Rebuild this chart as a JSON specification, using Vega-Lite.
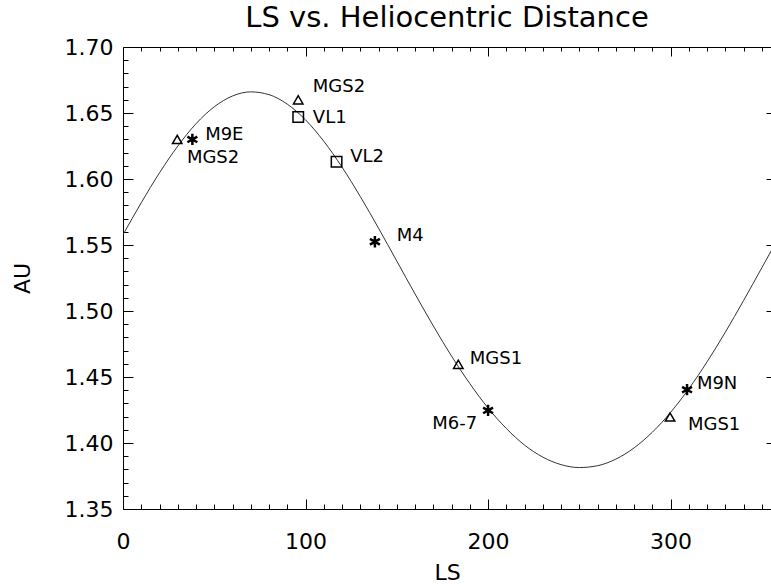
{
  "$schema": "https://vega.github.io/schema/vega-lite/v6.json",
  "width": 648,
  "height": 462,
  "autosize": {"type": "none"},
  "padding": {"left": 123, "top": 47, "right": 0, "bottom": 79},
  "background": "white",
  "title": {"text": "LS vs. Heliocentric Distance", "fontSize": 29, "font": "DejaVu Sans", "fontWeight": "normal", "anchor": "middle", "offset": 3, "color": "black"},
  "config": {
    "view": {"stroke": null},
    "axis": {"grid": false, "domainColor": "black", "tickColor": "black", "labelColor": "black", "titleColor": "black", "labelFont": "DejaVu Sans", "titleFont": "DejaVu Sans", "labelFontSize": 22, "titleFontSize": 22, "titleFontWeight": "normal", "tickWidth": 1, "domainWidth": 1}
  },
  "datasets": {
    "curve": [
      {"Ls": 0, "AU": 1.5578}, {"Ls": 10, "AU": 1.582}, {"Ls": 20, "AU": 1.6047}, {"Ls": 30, "AU": 1.6249},
      {"Ls": 40, "AU": 1.6419}, {"Ls": 50, "AU": 1.6547}, {"Ls": 60, "AU": 1.6629}, {"Ls": 70, "AU": 1.666},
      {"Ls": 80, "AU": 1.6639}, {"Ls": 90, "AU": 1.6567}, {"Ls": 100, "AU": 1.6448}, {"Ls": 110, "AU": 1.6286},
      {"Ls": 120, "AU": 1.609}, {"Ls": 130, "AU": 1.5867}, {"Ls": 140, "AU": 1.5627}, {"Ls": 150, "AU": 1.5378},
      {"Ls": 160, "AU": 1.5129}, {"Ls": 170, "AU": 1.4887}, {"Ls": 180, "AU": 1.4658}, {"Ls": 190, "AU": 1.445},
      {"Ls": 200, "AU": 1.4265}, {"Ls": 210, "AU": 1.411}, {"Ls": 220, "AU": 1.3984}, {"Ls": 230, "AU": 1.3893},
      {"Ls": 240, "AU": 1.3836}, {"Ls": 250, "AU": 1.3814}, {"Ls": 260, "AU": 1.3828}, {"Ls": 270, "AU": 1.3878},
      {"Ls": 280, "AU": 1.3963}, {"Ls": 290, "AU": 1.4082}, {"Ls": 300, "AU": 1.4232}, {"Ls": 310, "AU": 1.4411},
      {"Ls": 320, "AU": 1.4615}, {"Ls": 330, "AU": 1.484}, {"Ls": 340, "AU": 1.508}, {"Ls": 350, "AU": 1.5328},
      {"Ls": 360, "AU": 1.5578}
    ],
    "markers": [
      {"mission": "MGS2", "kind": "MGS", "Ls": 29.7, "AU": 1.630},
      {"mission": "MGS2", "kind": "MGS", "Ls": 96, "AU": 1.660},
      {"mission": "MGS1", "kind": "MGS", "Ls": 183.7, "AU": 1.4596},
      {"mission": "MGS1", "kind": "MGS", "Ls": 299.7, "AU": 1.4197},
      {"mission": "VL1", "kind": "VL", "Ls": 96, "AU": 1.647},
      {"mission": "VL2", "kind": "VL", "Ls": 117, "AU": 1.613},
      {"mission": "M9E", "kind": "M", "Ls": 38, "AU": 1.630},
      {"mission": "M4", "kind": "M", "Ls": 138, "AU": 1.5525},
      {"mission": "M6-7", "kind": "M", "Ls": 200, "AU": 1.4247},
      {"mission": "M9N", "kind": "M", "Ls": 309, "AU": 1.4404}
    ],
    "labels": [
      {"text": "M9E", "side": "left", "Ls": 45, "AU": 1.633},
      {"text": "MGS2", "side": "left", "Ls": 35, "AU": 1.616},
      {"text": "MGS2", "side": "left", "Ls": 104, "AU": 1.670},
      {"text": "VL1", "side": "left", "Ls": 104, "AU": 1.646},
      {"text": "VL2", "side": "left", "Ls": 124.5, "AU": 1.617},
      {"text": "M4", "side": "left", "Ls": 150, "AU": 1.557},
      {"text": "MGS1", "side": "left", "Ls": 190, "AU": 1.464},
      {"text": "M9N", "side": "left", "Ls": 314.4, "AU": 1.445},
      {"text": "MGS1", "side": "left", "Ls": 309.5, "AU": 1.414},
      {"text": "M6-7", "side": "right", "Ls": 194, "AU": 1.4146}
    ]
  },
  "layer": [
    {
      "data": {"name": "curve"},
      "mark": {"type": "line", "color": "#333333", "strokeWidth": 1, "clip": true, "interpolate": "monotone"},
      "encoding": {
        "x": {"field": "Ls", "type": "quantitative", "scale": {"domain": [0, 355], "nice": false, "zero": false},
              "axis": {"orient": "bottom", "values": [0, 100, 200, 300], "tickSize": -10, "labelPadding": 32, "title": "LS", "titlePadding": 10, "domain": true, "labelFlush": false}},
        "y": {"field": "AU", "type": "quantitative", "scale": {"domain": [1.35, 1.70], "nice": false, "zero": false},
              "axis": {"orient": "left", "values": [1.35, 1.40, 1.45, 1.50, 1.55, 1.60, 1.65, 1.70], "format": ".2f", "tickSize": -10, "labelPadding": 20, "title": "AU", "titlePadding": 30, "domain": true, "labelFlush": false}}
      }
    },
    {
      "data": {"name": "markers"},
      "transform": [{"filter": "datum.kind === 'MGS'"}],
      "mark": {"type": "point", "shape": "triangle-up", "filled": false, "stroke": "black", "strokeWidth": 1.5, "size": 90, "opacity": 1},
      "encoding": {
        "x": {"field": "Ls", "type": "quantitative",
              "axis": {"orient": "bottom", "values": [0,10,20,30,40,50,60,70,80,90,110,120,130,140,150,160,170,180,190,210,220,230,240,250,260,270,280,290,310,320,330,340,350], "tickSize": -5, "labels": false, "domain": false, "title": null}},
        "y": {"field": "AU", "type": "quantitative",
              "axis": {"orient": "left", "values": [1.36,1.37,1.38,1.39,1.41,1.42,1.43,1.44,1.46,1.47,1.48,1.49,1.51,1.52,1.53,1.54,1.56,1.57,1.58,1.59,1.61,1.62,1.63,1.64,1.66,1.67,1.68,1.69], "tickSize": -5, "labels": false, "domain": false, "title": null}}
      }
    },
    {
      "data": {"name": "markers"},
      "transform": [{"filter": "datum.kind === 'VL'"}],
      "mark": {"type": "point", "shape": "square", "filled": false, "stroke": "black", "strokeWidth": 1.5, "size": 110, "opacity": 1},
      "encoding": {
        "x": {"field": "Ls", "type": "quantitative",
              "axis": {"orient": "top", "values": [100, 200, 300], "tickSize": -9, "labels": false, "domain": true, "title": null}},
        "y": {"field": "AU", "type": "quantitative",
              "axis": {"orient": "right", "values": [1.40, 1.45, 1.50, 1.55, 1.60, 1.65], "tickSize": -5, "labels": false, "domain": false, "title": null}}
      }
    },
    {
      "data": {"name": "markers"},
      "transform": [{"filter": "datum.kind === 'M'"}],
      "mark": {"type": "point", "shape": "M0,-1L0,1M-0.87,-0.5L0.87,0.5M-0.87,0.5L0.87,-0.5", "filled": false, "stroke": "black", "strokeWidth": 2.5, "size": 130, "opacity": 1},
      "encoding": {
        "x": {"field": "Ls", "type": "quantitative",
              "axis": {"orient": "top", "values": [10,20,30,40,50,60,70,80,90,110,120,130,140,150,160,170,180,190,210,220,230,240,250,260,270,280,290,310,320,330,340,350], "tickSize": -4, "labels": false, "domain": false, "title": null}},
        "y": {"field": "AU", "type": "quantitative", "axis": null}
      }
    },
    {
      "data": {"name": "labels"},
      "transform": [{"filter": "datum.side === 'left'"}],
      "mark": {"type": "text", "align": "left", "baseline": "middle", "font": "DejaVu Sans", "fontSize": 18, "color": "black"},
      "encoding": {
        "x": {"field": "Ls", "type": "quantitative", "axis": null},
        "y": {"field": "AU", "type": "quantitative", "axis": null},
        "text": {"field": "text"}
      }
    },
    {
      "data": {"name": "labels"},
      "transform": [{"filter": "datum.side === 'right'"}],
      "mark": {"type": "text", "align": "right", "baseline": "middle", "font": "DejaVu Sans", "fontSize": 18, "color": "black"},
      "encoding": {
        "x": {"field": "Ls", "type": "quantitative", "axis": null},
        "y": {"field": "AU", "type": "quantitative", "axis": null},
        "text": {"field": "text"}
      }
    }
  ],
  "resolve": {"axis": {"x": "independent", "y": "independent"}}
}
